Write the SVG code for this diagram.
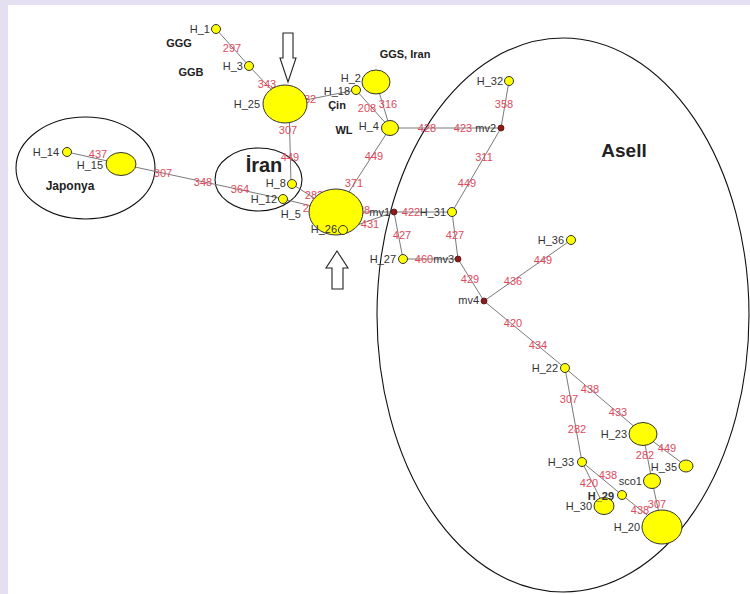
<svg xmlns="http://www.w3.org/2000/svg" width="750" height="594" viewBox="0 0 750 594">
<style>
.e{stroke:#7a7a7a;stroke-width:1;fill:none}
.el{font-family:"Liberation Sans",Arial,sans-serif;font-size:11px;fill:#e04a5c;text-anchor:middle}
.nl{font-family:"Liberation Sans",Arial,sans-serif;font-size:11px;fill:#333;text-anchor:end}
.y{fill:#ffff00;stroke:#333;stroke-width:1}
.mv{fill:#8b1c1c;stroke:#5a0f0f;stroke-width:0.8}
.b{font-family:"Liberation Sans",Arial,sans-serif;font-weight:bold;fill:#222}
.reg{fill:none;stroke:#111;stroke-width:1.1}
.arr{fill:#fff;stroke:#222;stroke-width:1.1}
</style>
<rect x="0" y="0" width="750" height="594" fill="#e4e0f1"/>
<rect x="8" y="5" width="742" height="589" fill="#fff"/>

<g id="regions">
<ellipse class="reg" cx="85.5" cy="168" rx="69.5" ry="51"/>
<ellipse class="reg" cx="258.5" cy="179.5" rx="43.5" ry="31.5"/>
<ellipse class="reg" cx="563" cy="315" rx="186" ry="277"/>
<polygon class="arr" points="283,33 293,33 293,58 296,58 288,82 280,58 283,58"/>
<polygon class="arr" points="337,251 348,268 343,268 343,289 332,289 332,268 326,268"/>
<text class="b" x="179" y="47" font-size="11" text-anchor="middle">GGG</text>
<text class="b" x="191" y="76" font-size="11" text-anchor="middle">GGB</text>
<text class="b" x="405" y="58" font-size="11" text-anchor="middle">GGS, Iran</text>
<text class="b" x="337" y="109" font-size="11" text-anchor="middle">Çin</text>
<text class="b" x="344" y="134" font-size="11" text-anchor="middle">WL</text>
<text class="b" x="264" y="172" font-size="20" text-anchor="middle">İran</text>
<text class="b" x="70" y="190" font-size="12" text-anchor="middle">Japonya</text>
<text class="b" x="624" y="157" font-size="19" text-anchor="middle">Asell</text>
</g>

<g id="connectors">
<line class="e" x1="216" y1="29" x2="249" y2="66"/>
<line class="e" x1="249" y1="66" x2="285" y2="104"/>
<line class="e" x1="285" y1="104" x2="356" y2="90"/>
<line class="e" x1="356" y1="90" x2="390" y2="128"/>
<line class="e" x1="376" y1="82" x2="390" y2="128"/>
<line class="e" x1="289" y1="104" x2="291" y2="184"/>
<line class="e" x1="390" y1="128" x2="336" y2="212"/>
<line class="e" x1="390" y1="128" x2="501" y2="128"/>
<line class="e" x1="501" y1="128" x2="509" y2="81"/>
<line class="e" x1="501" y1="128" x2="452" y2="212"/>
<line class="e" x1="336" y1="212" x2="394" y2="212"/>
<line class="e" x1="343" y1="230" x2="394" y2="212"/>
<line class="e" x1="394" y1="212" x2="452" y2="212"/>
<line class="e" x1="394" y1="212" x2="403" y2="259"/>
<line class="e" x1="452" y1="212" x2="458" y2="259"/>
<line class="e" x1="403" y1="259" x2="458" y2="259"/>
<line class="e" x1="458" y1="259" x2="484" y2="301"/>
<line class="e" x1="484" y1="301" x2="571" y2="240"/>
<line class="e" x1="484" y1="301" x2="565" y2="368"/>
<line class="e" x1="565" y1="368" x2="643" y2="434"/>
<line class="e" x1="565" y1="368" x2="582" y2="462"/>
<line class="e" x1="643" y1="434" x2="652" y2="481"/>
<line class="e" x1="643" y1="434" x2="686" y2="466"/>
<line class="e" x1="652" y1="481" x2="662" y2="527"/>
<line class="e" x1="582" y1="462" x2="622" y2="495"/>
<line class="e" x1="582" y1="462" x2="604" y2="506"/>
<line class="e" x1="622" y1="495" x2="662" y2="527"/>
<line class="e" x1="121" y1="164" x2="67" y2="152"/>
<line class="e" x1="121" y1="164" x2="283" y2="199"/>
<line class="e" x1="292" y1="184" x2="336" y2="212"/>
<line class="e" x1="283" y1="199" x2="336" y2="212"/>
</g>

<g id="edge-labels">
<text class="el" x="232" y="52">297</text>
<text class="el" x="267" y="88">343</text>
<text class="el" x="307" y="103">282</text>
<text class="el" x="367" y="112">208</text>
<text class="el" x="388" y="108">316</text>
<text class="el" x="288" y="134">307</text>
<text class="el" x="290" y="161">449</text>
<text class="el" x="374" y="160">449</text>
<text class="el" x="354" y="187">371</text>
<text class="el" x="427" y="132">428</text>
<text class="el" x="463" y="132">423</text>
<text class="el" x="504" y="108">358</text>
<text class="el" x="484" y="161">311</text>
<text class="el" x="467" y="187">449</text>
<text class="el" x="314" y="199">282</text>
<text class="el" x="312" y="212">292</text>
<text class="el" x="361" y="214">428</text>
<text class="el" x="370" y="228">431</text>
<text class="el" x="411" y="216">422</text>
<text class="el" x="402" y="239">427</text>
<text class="el" x="455" y="239">427</text>
<text class="el" x="424" y="263">460</text>
<text class="el" x="470" y="283">429</text>
<text class="el" x="513" y="285">436</text>
<text class="el" x="543" y="264">449</text>
<text class="el" x="513" y="327">420</text>
<text class="el" x="538" y="349">434</text>
<text class="el" x="590" y="393">438</text>
<text class="el" x="569" y="403">307</text>
<text class="el" x="618" y="416">433</text>
<text class="el" x="577" y="433">282</text>
<text class="el" x="667" y="452">449</text>
<text class="el" x="645" y="459">282</text>
<text class="el" x="608" y="479">438</text>
<text class="el" x="589" y="487">420</text>
<text class="el" x="657" y="508">307</text>
<text class="el" x="640" y="514">438</text>
<text class="el" x="98" y="158">437</text>
<text class="el" x="163" y="177">307</text>
<text class="el" x="203" y="186">348</text>
<text class="el" x="240" y="193">364</text>
</g>

<g id="H_1"><circle class="y" cx="216" cy="29" r="4.5"/><text class="nl" x="210" y="33">H_1</text></g>
<g id="H_3"><circle class="y" cx="249" cy="66" r="4.5"/><text class="nl" x="243" y="70">H_3</text></g>
<g id="H_25"><ellipse class="y" cx="285" cy="104" rx="22" ry="19"/><text class="nl" x="260" y="108">H_25</text></g>
<g id="H_18"><circle class="y" cx="356" cy="90" r="4.5"/><text class="nl" x="350" y="95">H_18</text></g>
<g id="H_2"><ellipse class="y" cx="376" cy="82" rx="14" ry="12"/><text class="nl" x="361" y="82">H_2</text></g>
<g id="H_4"><ellipse class="y" cx="390" cy="128" rx="8.5" ry="7.5"/><text class="nl" x="379" y="130">H_4</text></g>
<g id="H_8"><circle class="y" cx="292" cy="184" r="4.5"/><text class="nl" x="286" y="187">H_8</text></g>
<g id="H_12"><circle class="y" cx="283" cy="199" r="4.5"/><text class="nl" x="277" y="203">H_12</text></g>
<g id="H_5"><ellipse class="y" cx="336" cy="212" rx="27" ry="23"/><text class="nl" x="301" y="218">H_5</text></g>
<g id="H_26"><circle class="y" cx="343" cy="230" r="4.5"/><text class="nl" x="337" y="233">H_26</text></g>
<g id="H_14"><circle class="y" cx="67" cy="152" r="4.5"/><text class="nl" x="59" y="156">H_14</text></g>
<g id="H_15"><ellipse class="y" cx="121" cy="164" rx="15" ry="11.5"/><text class="nl" x="103" y="169">H_15</text></g>
<g id="mv1"><circle class="mv" cx="394" cy="212" r="3"/><text class="nl" x="390" y="216">mv1</text></g>
<g id="H_31"><circle class="y" cx="452" cy="212" r="4.5"/><text class="nl" x="446" y="216">H_31</text></g>
<g id="H_27"><circle class="y" cx="403" cy="259" r="4.5"/><text class="nl" x="396" y="263">H_27</text></g>
<g id="mv3"><circle class="mv" cx="458" cy="259" r="3"/><text class="nl" x="454" y="263">mv3</text></g>
<g id="mv2"><circle class="mv" cx="501" cy="128" r="3"/><text class="nl" x="496" y="132">mv2</text></g>
<g id="H_32"><circle class="y" cx="509" cy="81" r="4.5"/><text class="nl" x="503" y="85">H_32</text></g>
<g id="H_36"><circle class="y" cx="571" cy="240" r="4.5"/><text class="nl" x="564" y="244">H_36</text></g>
<g id="mv4"><circle class="mv" cx="484" cy="301" r="3"/><text class="nl" x="479" y="304">mv4</text></g>
<g id="H_22"><circle class="y" cx="565" cy="368" r="4.5"/><text class="nl" x="558" y="372">H_22</text></g>
<g id="H_23"><ellipse class="y" cx="643" cy="434" rx="14" ry="11.5"/><text class="nl" x="627" y="438">H_23</text></g>
<g id="H_35"><ellipse class="y" cx="686" cy="466" rx="7" ry="6"/><text class="nl" x="677" y="471">H_35</text></g>
<g id="H_33"><circle class="y" cx="582" cy="462" r="4.5"/><text class="nl" x="574" y="466">H_33</text></g>
<g id="sco1"><ellipse class="y" cx="652" cy="481" rx="8.5" ry="7.5"/><text class="nl" x="642" y="485">sco1</text></g>
<g id="H_30"><ellipse class="y" cx="604" cy="506" rx="10" ry="8.5"/><text class="nl" x="592" y="510">H_30</text></g>
<g id="H_29"><circle class="y" cx="622" cy="495" r="4.5"/><text class="nl" x="614" y="500" font-weight="bold">H_29</text></g>
<g id="H_20"><ellipse class="y" cx="662" cy="527" rx="20" ry="17"/><text class="nl" x="640" y="531">H_20</text></g>
</svg>
